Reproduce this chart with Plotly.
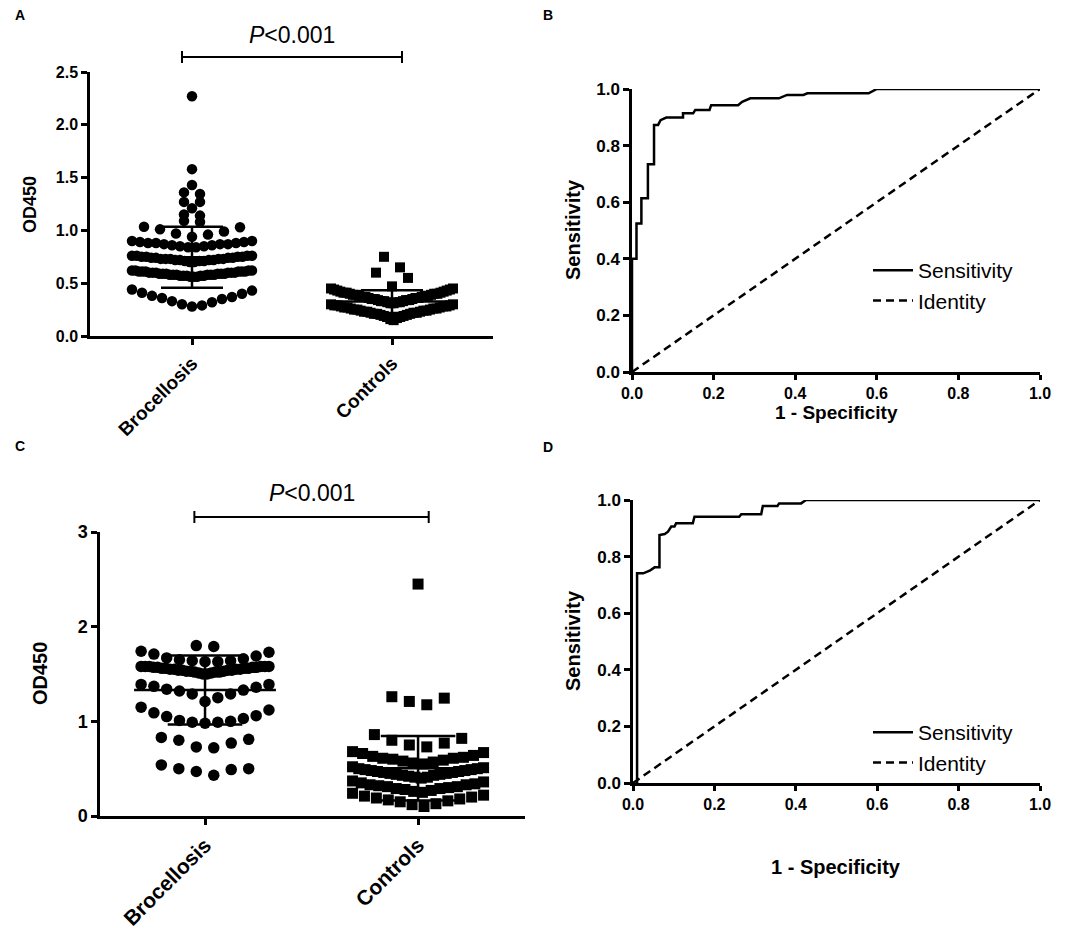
import plotly.graph_objects as go

W, H = 1084, 941
OFF = 8  # page margin around the plot
FW, FH = W - 2 * OFF, H - 2 * OFF
FONT = 'Liberation Sans, Arial, sans-serif'

groups = ['Brocellosis', 'Controls']

# panel A: OD450 per group
bru_a = [0.28, 0.29, 0.30, 0.32, 0.33, 0.35, 0.36, 0.37, 0.38, 0.40, 0.41, 0.43, 0.44,
         0.56, 0.56, 0.56, 0.57, 0.57, 0.57, 0.57, 0.57, 0.58, 0.58, 0.58, 0.58, 0.58, 0.58,
         0.59, 0.59, 0.59, 0.59, 0.59, 0.59, 0.60, 0.60, 0.60, 0.60, 0.60, 0.60,
         0.61, 0.61, 0.61, 0.61, 0.61, 0.61, 0.62, 0.62, 0.62, 0.62,
         0.70, 0.70, 0.71, 0.71, 0.71, 0.72, 0.72, 0.72, 0.72, 0.73, 0.73, 0.73, 0.73, 0.73,
         0.74, 0.74, 0.74, 0.74, 0.75, 0.75, 0.75, 0.75, 0.76, 0.76, 0.76, 0.76,
         0.84, 0.84, 0.85, 0.85, 0.86, 0.86, 0.87, 0.87, 0.87, 0.88, 0.88, 0.88, 0.89, 0.89, 0.90, 0.90,
         0.94, 0.96, 0.97, 0.99, 1.01, 1.03, 1.035,
         1.08, 1.09, 1.14, 1.15, 1.21, 1.27, 1.27, 1.345, 1.36, 1.43, 1.58, 2.27]
ctrl_a = [0.15, 0.16, 0.17, 0.18, 0.18, 0.19, 0.19, 0.20, 0.20, 0.21, 0.21, 0.21, 0.22, 0.22,
          0.22, 0.23, 0.23, 0.23, 0.24, 0.24, 0.24, 0.25, 0.25, 0.25, 0.26, 0.26, 0.26, 0.27,
          0.27, 0.27, 0.28, 0.28, 0.28, 0.29, 0.29, 0.29, 0.30, 0.30,
          0.31, 0.31, 0.32, 0.32, 0.32, 0.33, 0.33, 0.33, 0.34, 0.34, 0.34, 0.35, 0.35, 0.35,
          0.36, 0.36, 0.36, 0.37, 0.37, 0.37, 0.38, 0.38, 0.38, 0.39, 0.39, 0.39, 0.40, 0.40,
          0.40, 0.41, 0.41, 0.41, 0.42, 0.42, 0.43, 0.43, 0.44, 0.44, 0.45, 0.45,
          0.47, 0.55, 0.60, 0.65, 0.75]

# panel C: OD450 per group
bru_c = [0.43, 0.47, 0.49, 0.50, 0.50, 0.54,
         0.72, 0.73, 0.77, 0.80, 0.81, 0.83,
         0.98, 0.99, 0.99, 1.00, 1.01, 1.03, 1.05, 1.06, 1.09, 1.12, 1.15,
         1.21, 1.25, 1.29, 1.29, 1.32, 1.33, 1.34, 1.36, 1.37, 1.39, 1.39,
         1.50, 1.50, 1.51, 1.51, 1.52, 1.52, 1.52, 1.53, 1.53, 1.53, 1.54, 1.54, 1.54, 1.54,
         1.55, 1.55, 1.55, 1.55, 1.56, 1.56, 1.56, 1.56, 1.57, 1.57, 1.57, 1.57,
         1.58, 1.58, 1.58, 1.58, 1.58, 1.58,
         1.63, 1.63, 1.64, 1.64, 1.65, 1.66, 1.67, 1.69, 1.71, 1.73, 1.74,
         1.79, 1.80]
ctrl_c = [0.10, 0.12, 0.13, 0.15, 0.16, 0.17, 0.18, 0.19, 0.20, 0.21, 0.22, 0.24,
          0.25, 0.26, 0.27, 0.28, 0.29, 0.29, 0.30, 0.31, 0.31, 0.32, 0.33, 0.33, 0.34, 0.35,
          0.36, 0.37,
          0.40, 0.41, 0.41, 0.42, 0.43, 0.43, 0.44, 0.44, 0.45, 0.45, 0.46, 0.46, 0.47, 0.47,
          0.48, 0.48, 0.49, 0.49, 0.50, 0.50, 0.51, 0.52,
          0.55, 0.56, 0.57, 0.58, 0.59, 0.60, 0.61, 0.61, 0.62, 0.63, 0.64, 0.66, 0.67, 0.68,
          0.73, 0.75, 0.77, 0.80, 0.82, 0.86,
          1.175, 1.21, 1.245, 1.26,
          2.45]

# ROC curves (1 - specificity, sensitivity)
fpr_b = [0, 0, 0.011, 0.011, 0.023, 0.023, 0.039, 0.039, 0.054, 0.054, 0.064, 0.07, 0.084,
         0.125, 0.125, 0.15, 0.155, 0.19, 0.194, 0.26, 0.27, 0.28, 0.29, 0.36, 0.38, 0.42,
         0.43, 0.58, 0.60, 1.0]
tpr_b = [0, 0.40, 0.40, 0.525, 0.525, 0.614, 0.614, 0.734, 0.734, 0.873, 0.873, 0.89, 0.899,
         0.899, 0.914, 0.914, 0.926, 0.926, 0.943, 0.943, 0.955, 0.96, 0.967, 0.967, 0.979,
         0.979, 0.985, 0.985, 1.0, 1.0]
fpr_d = [0.01, 0.01, 0.025, 0.041, 0.053, 0.065, 0.065, 0.078, 0.086, 0.094, 0.102, 0.106,
         0.147, 0.151, 0.261, 0.266, 0.315, 0.319, 0.355, 0.359, 0.413, 0.425, 1.0]
tpr_d = [0, 0.741, 0.741, 0.75, 0.762, 0.762, 0.876, 0.88, 0.888, 0.906, 0.906, 0.918,
         0.918, 0.941, 0.941, 0.95, 0.95, 0.979, 0.979, 0.988, 0.988, 1.0, 1.0]
identity = [0, 1]

p_label = '<i>P</i>&lt;0.001'


def px(x):
    return (x - OFF) / FW


def py(y):
    return 1 - (y - OFF) / FH


def swarm(values, span, gap, step, width):
    # rows of close values, spread sideways, lowest value in the middle
    rows, row = [], []
    for v in sorted(values):
        if row and (v - row[0] > span + 1e-9 or v - row[-1] > gap + 1e-9):
            rows.append(row)
            row = []
        row.append(v)
    rows.append(row)
    xs, ys = [], []
    for row in rows:
        n = len(row)
        s = step if n < 2 else min(step, width / (n - 1))
        for i, v in enumerate(row):
            if n % 2:
                off = (i + 1) // 2 * s * (1 if i % 2 else -1)
            else:
                off = (i // 2 + 0.5) * s * (1 if i % 2 == 0 else -1)
            xs.append(off)
            ys.append(v)
    return xs, ys


def mean_sd(values):
    n = len(values)
    m = sum(values) / n
    sd = (sum((v - m) ** 2 for v in values) / (n - 1)) ** 0.5
    return m, sd


fig = go.Figure()


def dot_panel(xa, ya, sets, half_mean, half_cap, lw):
    for c, (vals, sym, size, span, gap, step, width) in enumerate(sets):
        dx, dy = swarm(vals, span, gap, step, width)
        fig.add_trace(go.Scatter(
            x=[c + d for d in dx], y=dy, mode='markers', xaxis=xa, yaxis=ya,
            marker=dict(symbol=sym, size=size, color='black', line=dict(width=0)),
            cliponaxis=False, showlegend=False, hoverinfo='y'))
    for c, (vals, *_rest) in enumerate(sets):
        m, sd = mean_sd(vals)
        fig.add_trace(go.Scatter(
            x=[c - half_mean, c + half_mean, None, c, c, None,
               c - half_cap, c + half_cap, None, c - half_cap, c + half_cap],
            y=[m, m, None, m - sd, m + sd, None, m + sd, m + sd, None, m - sd, m - sd],
            mode='lines', xaxis=xa, yaxis=ya, line=dict(color='black', width=lw),
            cliponaxis=False, showlegend=False, hoverinfo='skip'))


dot_panel('x', 'y',
          [(bru_a, 'circle', 10.5, 0.165, 0.025, 0.08, 0.60),
           (ctrl_a, 'square', 10, 0.15, 1.0, 0.08, 0.61)],
          0.32, 0.155, 2.5)
dot_panel('x3', 'y3',
          [(bru_c, 'circle', 11.5, 0.185, 0.045, 0.082, 0.60),
           (ctrl_c, 'square', 11, 0.14, 1.0, 0.082, 0.615)],
          0.333, 0.175, 2.5)

for xa, ya, fx, fy, leg in [('x2', 'y2', fpr_b, tpr_b, 'legend'),
                            ('x4', 'y4', fpr_d, tpr_d, 'legend2')]:
    fig.add_trace(go.Scatter(x=fx, y=fy, mode='lines', name='Sensitivity',
                             xaxis=xa, yaxis=ya, legend=leg,
                             line=dict(color='black', width=2.5)))
    fig.add_trace(go.Scatter(x=identity, y=identity, mode='lines', name='Identity',
                             xaxis=xa, yaxis=ya, legend=leg,
                             line=dict(color='black', width=2.5, dash='8px,5px')))

base = dict(showline=True, linewidth=2.5, linecolor='black', ticks='outside',
            ticklen=6, tickwidth=2.5, tickcolor='black', showgrid=False,
            zeroline=False, automargin=False)


def tfont(size):
    return dict(family=FONT, size=size, color='black', weight='bold')


legend_style = dict(xanchor='left', yanchor='top', itemwidth=40,
                    font=dict(family=FONT, size=21, color='black'),
                    bgcolor='rgba(0,0,0,0)')

fig.update_layout(
    width=FW, height=FH,
    margin=dict(l=0, r=0, t=0, b=0, pad=0, autoexpand=False),
    paper_bgcolor='white', plot_bgcolor='white',
    xaxis=dict(base, domain=[px(90), px(493)], range=[-0.51, 1.505], anchor='y',
               tickvals=[0, 1], ticktext=groups, tickangle=-45, tickfont=tfont(19)),
    yaxis=dict(base, domain=[py(336), py(72)], range=[0, 2.5], anchor='x',
               dtick=0.5, tickformat='.1f', tickfont=tfont(16)),
    xaxis2=dict(base, domain=[px(632), px(1040)], range=[0, 1], anchor='y2',
                dtick=0.2, tickformat='.1f', tickfont=tfont(16), ticklen=5),
    yaxis2=dict(base, domain=[py(372), py(89)], range=[0, 1], anchor='x2',
                dtick=0.2, tickformat='.1f', tickfont=tfont(17)),
    xaxis3=dict(base, domain=[px(100), px(525)], range=[-0.493, 1.502], anchor='y3',
                tickvals=[0, 1], ticktext=groups, tickangle=-45, tickfont=tfont(21)),
    yaxis3=dict(base, domain=[py(816), py(532)], range=[0, 3], anchor='x3',
                dtick=1, tickfont=tfont(18)),
    xaxis4=dict(base, domain=[px(633), px(1040)], range=[0, 1], anchor='y4',
                dtick=0.2, tickformat='.1f', tickfont=tfont(16), ticklen=5),
    yaxis4=dict(base, domain=[py(783), py(500)], range=[0, 1], anchor='x4',
                dtick=0.2, tickformat='.1f', tickfont=tfont(17)),
    legend=dict(legend_style, x=px(868), y=py(250)),
    legend2=dict(legend_style, x=px(868), y=py(712)),
)

# significance brackets between the two groups
for xa, yb, yt in [('x', 57, 35), ('x3', 517, 493)]:
    for x0, y0, x1, y1 in [(-0.05, yb, 1.05, yb), (-0.05, yb - 6, -0.05, yb + 6),
                           (1.05, yb - 6, 1.05, yb + 6)]:
        fig.add_shape(type='line', xref=xa, yref='paper', x0=x0, x1=x1,
                      y0=py(y0), y1=py(y1), line=dict(color='black', width=2))
    fig.add_annotation(text=p_label, xref=xa, yref='paper', x=0.5, y=py(yt),
                       xanchor='center', yanchor='middle', showarrow=False,
                       font=dict(family=FONT, size=23, color='black'))

labels = [('A', 20, 15, 0, 14), ('B', 548, 15, 0, 14), ('C', 20, 446, 0, 14),
          ('D', 548, 447, 0, 14),
          ('OD450', 30, 204, -90, 18), ('OD450', 40, 674, -90, 20),
          ('Sensitivity', 573, 230, -90, 20), ('Sensitivity', 573, 641, -90, 20),
          ('1 - Specificity', 836, 413, 0, 19), ('1 - Specificity', 836, 867, 0, 20)]
for txt, x, y, ang, size in labels:
    fig.add_annotation(text=txt, xref='paper', yref='paper', x=px(x), y=py(y),
                       xanchor='center', yanchor='middle', showarrow=False,
                       textangle=ang, font=tfont(size))

fig.write_html('out.html')
